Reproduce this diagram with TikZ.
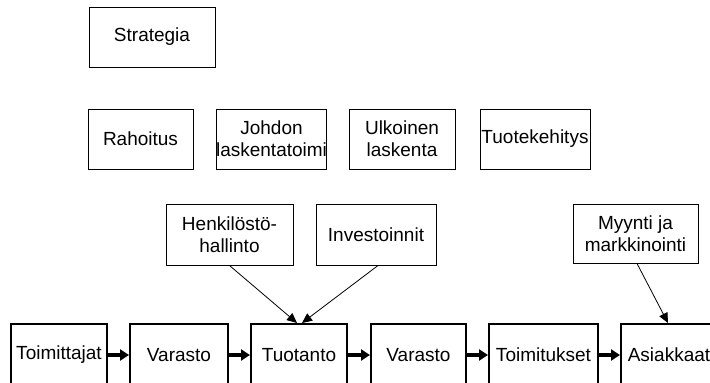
\documentclass[tikz,border=0pt]{standalone}
\usepackage{fontspec}
\setmainfont{Liberation Sans}
\usetikzlibrary{arrows.meta}
\begin{document}
\begin{tikzpicture}[x=1pt,y=-1pt,
  box/.style={draw=black,line width=1pt,inner sep=0pt,align=center,
    font=\fontsize{19}{22}\selectfont,minimum height=60pt},
  mainbox/.style={box,line width=2pt,minimum height=62pt},
  flow/.style={line width=3.2pt,-{Triangle[length=9pt,width=11pt]}},
  feed/.style={line width=0.8pt,-{Triangle[length=10pt,width=9pt]}}]
\fill[white] (0,0) rectangle (710,383);
\useasboundingbox (0,0) rectangle (710,383);
\node[box,minimum width=126pt] (strat) at (152,37) {Strategia};
\node[box,minimum width=105pt] (rah) at (140.5,139) {Rahoitus};
\node[box,minimum width=107pt] (joh) at (271.5,139) {Johdon\\laskentatoimi};
\node[box,minimum width=106pt] (ulk) at (402,139) {Ulkoinen\\laskenta};
\node[box,minimum width=110pt] (tke) at (535,139) {Tuotekehitys};
\node[box,minimum width=127pt,minimum height=61pt] (henk) at (229.5,234.5) {Henkilöstö-\\hallinto};
\node[box,minimum width=120pt,minimum height=61pt] (inv) at (376,234.5) {Investoinnit};
\node[box,minimum width=125pt,minimum height=59pt] (myy) at (635.5,233.5) {Myynti ja\\markkinointi};
\node[mainbox,minimum width=96pt] (toim) at (59,355) {Toimittajat};
\node[mainbox,minimum width=98pt] (var1) at (179,355) {Varasto};
\node[mainbox,minimum width=96pt] (tuot) at (299,355) {Tuotanto};
\node[mainbox,minimum width=95pt] (var2) at (418.5,355) {Varasto};
\node[mainbox,minimum width=109pt] (toimk) at (543.5,355) {Toimitukset};
\node[mainbox,minimum width=96pt] (asi) at (669,355) {Asiakkaat};
\draw[flow] (toim) -- (var1);
\draw[flow] (var1) -- (tuot);
\draw[flow] (tuot) -- (var2);
\draw[flow] (var2) -- (toimk);
\draw[flow] (toimk) -- (asi);
\draw[feed] (henk.south) -- ([xshift=-2pt]tuot.north);
\draw[feed] ([xshift=2pt]inv.south) -- ([xshift=3pt]tuot.north);
\draw[feed] ([xshift=1.5pt]myy.south) -- ([xshift=-1pt]asi.north);
\end{tikzpicture}
\end{document}
